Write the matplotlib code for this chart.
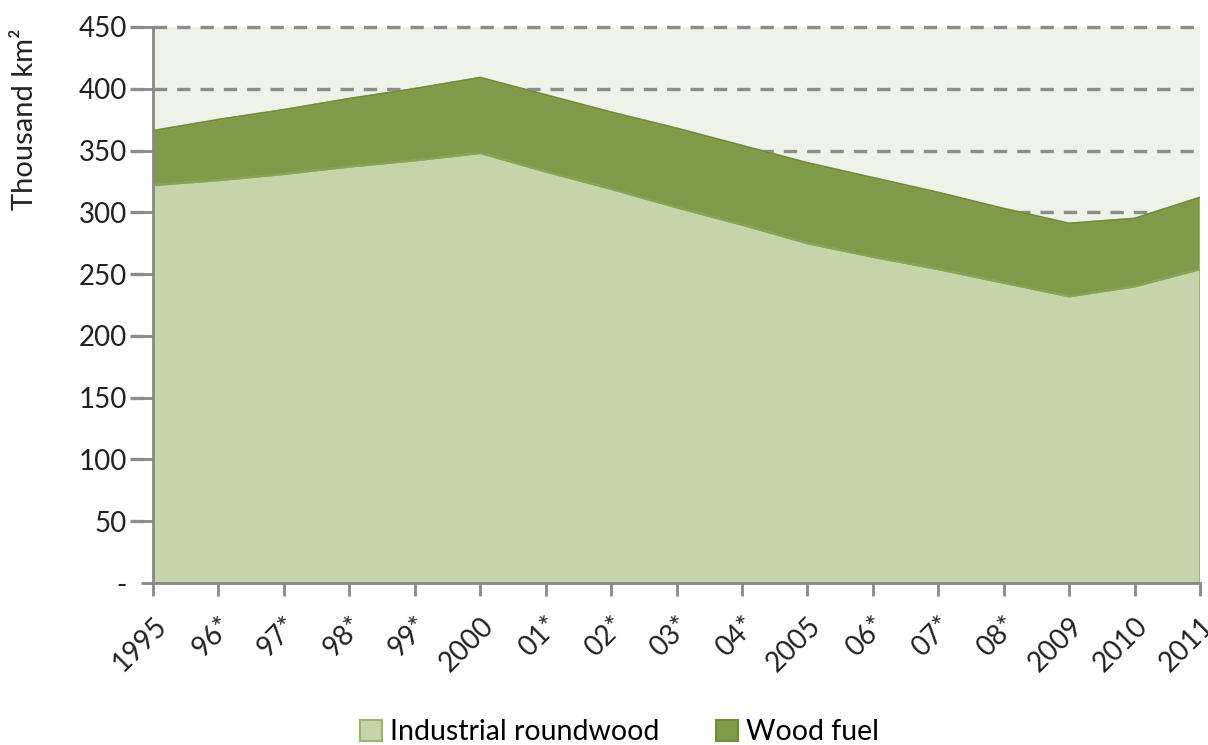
import matplotlib
matplotlib.use("Agg")
import matplotlib.pyplot as plt
import numpy as np
from matplotlib.patches import Patch

plt.rcParams['font.family'] = ['Lato', 'DejaVu Sans']

categories = ["1995", "96*", "97*", "98*", "99*", "2000", "01*", "02*", "03*", "04*",
              "2005", "06*", "07*", "08*", "2009", "2010", "2011"]
industrial = [322, 326, 331, 337, 342, 348, 333, 319, 304, 290, 275, 264, 254, 243, 232, 240, 254]
total = [366, 375, 383, 392, 400, 409, 395, 381, 368, 354, 340, 328, 316, 303, 291, 295, 312]
wood_fuel = [t - i for t, i in zip(total, industrial)]
y_ticks = [0, 50, 100, 150, 200, 250, 300, 350, 400, 450]
y_tick_labels = ["-", "50", "100", "150", "200", "250", "300", "350", "400", "450"]

c_ind = "#c5d5a9"
c_ind_edge = "#9cb56a"
c_wf = "#7f9a48"
c_wf_edge = "#6f8a3a"

fig = plt.figure(figsize=(12.08, 7.45), dpi=100)
ax = fig.add_axes([0.1267, 0.2174, 0.8667, 0.7464])
ax.set_facecolor("#eef2e8")

x = np.arange(len(categories))
ax.stackplot(x, industrial, wood_fuel, colors=[c_ind, c_wf],
             edgecolor=[c_ind_edge, c_wf_edge], linewidth=1.5, zorder=2)
ax.plot(x, industrial, color="#86a356", lw=1.5, zorder=3)
ax.plot(x, total, color=c_wf_edge, lw=1.2, zorder=3)

ax.set_xlim(0, len(categories) - 1)
ax.set_ylim(0, 450)
ax.set_yticks(y_ticks)
ax.set_yticklabels(y_tick_labels)
ax.set_xticks(x)
ax.set_xticklabels(categories, rotation=45, ha="right", va="top", rotation_mode="anchor")

for yv in y_ticks[1:]:
    ax.axhline(yv, color="#8c8c8c", lw=2.4, ls=(0, (4, 3)), zorder=1, clip_on=False,
               xmin=-0.022, xmax=1.0)

for s in ["top", "right"]:
    ax.spines[s].set_visible(False)
for s in ["left", "bottom"]:
    ax.spines[s].set_color("#888888")
    ax.spines[s].set_linewidth(2)
    ax.spines[s].set_zorder(4)

ax.tick_params(axis="both", colors="#888888", width=2, length=9, labelsize=20,
               labelcolor="#222222")
ax.tick_params(axis="y", pad=10)
ax.tick_params(axis="x", pad=12)

ax.set_ylabel("Thousand km²", fontsize=21, color="#222222")
ax.yaxis.set_label_coords(-0.11, 0.835)

handles = [Patch(facecolor=c_ind, edgecolor=c_ind_edge, lw=1.5, label="Industrial roundwood"),
           Patch(facecolor=c_wf, edgecolor=c_wf_edge, lw=1.5, label="Wood fuel")]
fig.legend(handles=handles, loc="center", bbox_to_anchor=(0.513, 0.017), ncol=2,
           frameon=False, fontsize=20.5, handlelength=0.75, handleheight=0.75,
           handletextpad=0.3, columnspacing=2.0)

fig.savefig("out.png", dpi=100)
